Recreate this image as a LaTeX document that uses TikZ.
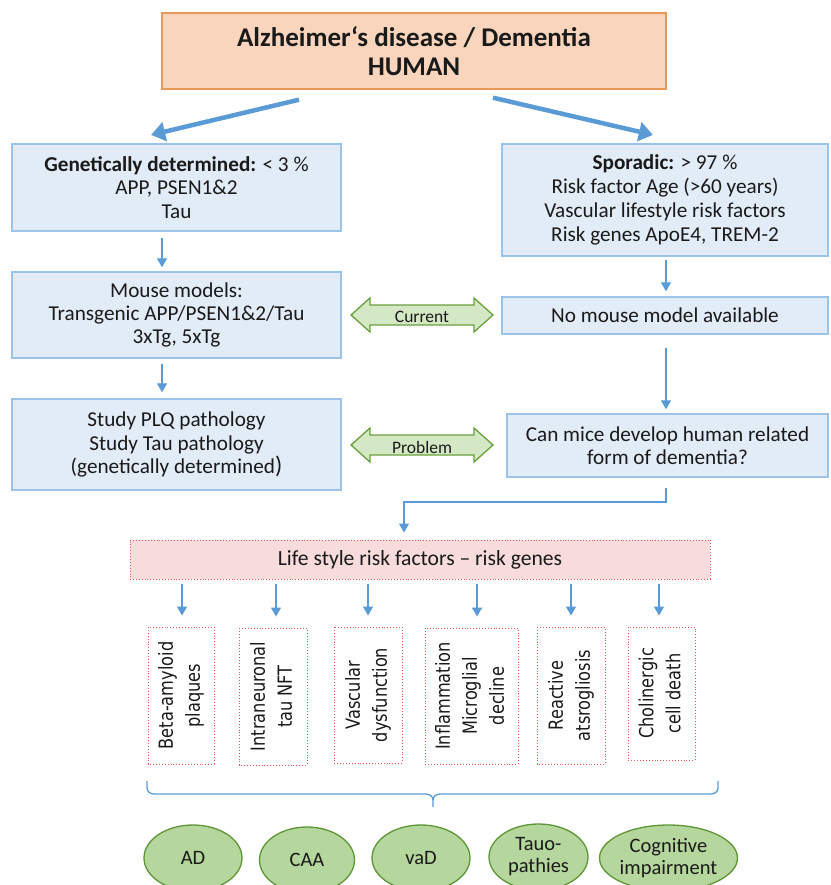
\documentclass[tikz,border=0pt]{standalone}
\usepackage{fontspec}
\setmainfont{Carlito}
\newfontfamily\rotfont{DejaVu Sans}
\usetikzlibrary{arrows.meta,calc,shapes.geometric}
\definecolor{bfill}{HTML}{E2ECF7}
\definecolor{bdraw}{HTML}{9DC3E6}
\definecolor{ablue}{HTML}{5B9BD5}
\definecolor{tfill}{HTML}{F8D5BC}
\definecolor{tdraw}{HTML}{E8995A}
\definecolor{lfill}{HTML}{F8DCDC}
\definecolor{rdot}{HTML}{E05A5A}
\definecolor{gafill}{HTML}{D5E8C5}
\definecolor{gadraw}{HTML}{6A9F3C}
\definecolor{efill}{HTML}{B5D69D}
\definecolor{edraw}{HTML}{5E9636}
\definecolor{txt}{HTML}{1A1A1A}
\tikzset{
  bluebox/.style={draw=bdraw, fill=bfill, line width=1.4pt, inner sep=0pt, align=center, text=txt,
    font=\fontsize{21.2}{23.3}\selectfont},
  topbox/.style={draw=tdraw, fill=tfill, line width=1.4pt, inner sep=0pt, align=center, text=txt,
    font=\bfseries\fontsize{27}{29}\selectfont},
  lifebox/.style={draw=rdot, fill=lfill, line width=0.9pt, dotted, inner sep=0pt, text=txt,
    font=\fontsize{21.6}{23}\selectfont},
  rotbox/.style={draw=rdot, fill=white, line width=0.9pt, dotted, inner sep=0pt, rotate=90, text=txt},
  ellnode/.style={ellipse, draw=edraw, fill=efill, line width=1.3pt, inner sep=0pt,
    minimum height=66pt, align=center, text=txt, font=\fontsize{20.5}{22}\selectfont},
  thinarr/.style={draw=ablue, line width=1.3pt, -{Triangle[length=9pt,width=10pt]}},
  thickarr/.style={draw=ablue, line width=4.5pt, -{Triangle[length=14pt,width=19pt]}, shorten >=-4pt},
  garrow/.style={draw=gadraw, fill=gafill, line width=1.3pt, line join=miter},
  glabel/.style={inner sep=0pt, text=txt, font=\fontsize{17.5}{18}\selectfont},
  bracepath/.style={draw=ablue, line width=1.3pt}
}
\newcommand{\rottext}[1]{\rotfont\scalebox{1}[1.2]{\fontsize{16.2}{22.5}\selectfont\begin{tabular}{@{}c@{}}#1\end{tabular}}}
\begin{document}
\begin{tikzpicture}[x=1pt,y=-1pt]
\clip (0,0) rectangle (830,885);
\fill[white] (0,0) rectangle (830,885);

% top
\node[topbox, minimum width=504pt, minimum height=76pt] (top) at (414,51)
  {Alzheimer‘s disease / Dementia\\HUMAN};

% first row
\node[bluebox, minimum width=329pt, minimum height=87pt] (gen) at (176.5,187.5)
  {\textbf{Genetically determined:} < 3 \%\\APP, PSEN1\&2\\Tau};
\node[bluebox, minimum width=326pt, minimum height=112pt] (spo) at (665,200)
  {\textbf{Sporadic:} > 97 \%\\[0.5pt]Risk factor Age (>60 years)\\[0.5pt]Vascular lifestyle risk factors\\[0.5pt]Risk genes ApoE4, TREM-2};

% second row
\node[bluebox, minimum width=329pt, minimum height=86pt] (mouse) at (176.5,315)
  {Mouse models:\\Transgenic APP/PSEN1\&2/Tau\\3xTg, 5xTg};
\node[bluebox, minimum width=326pt, minimum height=37pt] (nomouse) at (665,315.5)
  {No mouse model available};

% third row
\node[bluebox, minimum width=329pt, minimum height=91pt] (study) at (176.5,444.5)
  {Study PLQ pathology\\Study Tau pathology\\(genetically determined{\fontsize{24}{23}\selectfont)}};
\node[bluebox, minimum width=321pt, minimum height=63pt] (mice) at (667.5,445.5)
  {Can mice develop human related\\form of dementia?};

% life style
\node[lifebox, minimum width=580pt, minimum height=39pt] (life) at (420,559.5)
  {Life style risk factors -- risk genes};

% rotated boxes
\node[rotbox, minimum width=137pt, minimum height=66pt] (r1) at (181,695.5) {\rottext{Beta-amyloid\\plaques}};
\node[rotbox, minimum width=137pt, minimum height=68pt] (r2) at (273,696.5) {\rottext{Intraneuronal\\tau NFT}};
\node[rotbox, minimum width=136pt, minimum height=68pt] (r3) at (368,695) {\rottext{Vascular\\dysfunction}};
\node[rotbox, minimum width=136pt, minimum height=93pt] (r4) at (471.5,696) {\rottext{Inflammation\\Microglial\\decline}};
\node[rotbox, minimum width=137pt, minimum height=68pt] (r5) at (571,695.5) {\rottext{Reactive\\atsrogliosis}};
\node[rotbox, minimum width=133pt, minimum height=67pt] (r6) at (661.5,693.5) {\rottext{Cholinergic\\cell death}};

% ellipses
\node[ellnode, minimum width=98pt] (e1) at (193,858) {AD};
\node[ellnode, minimum width=95pt] (e2) at (307,860) {CAA};
\node[ellnode, minimum width=98pt] (e3) at (421,858) {vaD};
\node[ellnode, minimum width=99pt] (e4) at (538.5,857) {Tauo-\\pathies};
\node[ellnode, minimum width=129pt] (e5) at (668.5,858) {Cognitive\\impairment};

% thick arrows
\coordinate (ta1) at ($(top.south)+(-115,10)$);
\coordinate (ta1e) at (155,134);
\coordinate (ta2) at ($(top.south)+(79,8)$);
\coordinate (ta2e) at (649,134);
\draw[thickarr] (ta1) -- (ta1e);
\draw[thickarr] (ta2) -- (ta2e);

% vertical arrows
\draw[thinarr] ($(gen.south)+(-14.5,6)$) -- ($(mouse.north)+(-14.5,-4)$);
\draw[thinarr] ($(mouse.south)+(-14.5,5)$) -- ($(study.north)+(-14.5,-6)$);
\draw[thinarr] ($(spo.south)+(1,3)$) -- ($(nomouse.north)+(1,-5)$);
\draw[thinarr] ($(nomouse.south)+(1,13)$) -- ($(mice.north)+(-1.5,-4)$);
\coordinate (mc1) at ($(mice.south)+(-1.5,10)$);
\coordinate (mc2) at (666,502);
\coordinate (mc3) at (404,502);
\draw[thinarr] (mc1) -- (mc2) -- (mc3) -- ($(life.north -| mc3)+(0,-7)$);

% arrows to rotated boxes
\foreach \n/\x in {r1/182,r2/276,r3/368,r4/477,r5/571,r6/659}{
  \draw[thinarr] ($(life.south -| \x,0)+(0,5)$) -- ($(\n.east -| \x,0)+(0,-11)$);
}

% green double arrows
\draw[garrow] (351,315) -- (370,298) -- (370,305) -- (474,305) -- (474,298) -- (493,315)
  -- (474,332) -- (474,325) -- (370,325) -- (370,332) -- cycle;
\node[glabel] (cur) at (422,317) {Current};
\draw[garrow] (351,445) -- (370,428) -- (370,435) -- (474,435) -- (474,428) -- (493,445)
  -- (474,462) -- (474,455) -- (370,455) -- (370,462) -- cycle;
\node[glabel] (prob) at (422,447) {Problem};

% brace
\coordinate (bl) at (147,781);
\coordinate (br) at (718,781);
\coordinate (bt) at (433,807);
\draw[bracepath] (bl) -- (147,788) to[out=-90,in=180] (154,794) -- (426,794)
  to[out=0,in=90] (433,800) -- (bt);
\draw[bracepath] (br) -- (718,788) to[out=-90,in=0] (711,794) -- (440,794)
  to[out=180,in=90] (433,800);
\end{tikzpicture}
\end{document}
